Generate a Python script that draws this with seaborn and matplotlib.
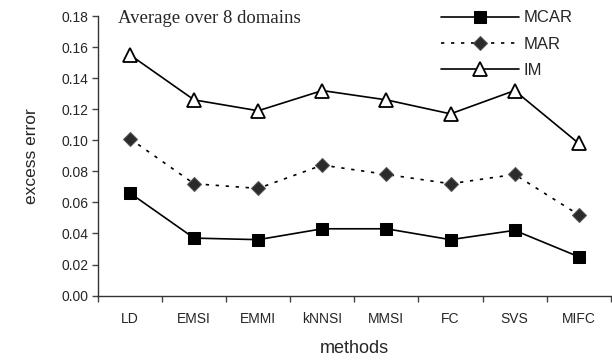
import matplotlib
matplotlib.use("Agg")
import matplotlib.pyplot as plt
import seaborn as sns
import pandas as pd
import numpy as np

methods = ["LD", "EMSI", "EMMI", "kNNSI", "MMSI", "FC", "SVS", "MIFC"]
mcar = [0.066, 0.037, 0.036, 0.043, 0.043, 0.036, 0.042, 0.025]
mar = [0.101, 0.072, 0.069, 0.084, 0.078, 0.072, 0.078, 0.052]
im = [0.155, 0.126, 0.119, 0.132, 0.126, 0.117, 0.132, 0.098]

sns.set_style("ticks")
plt.rcParams["font.family"] = ["Liberation Sans", "DejaVu Sans"]

fig = plt.figure(figsize=(6.12, 3.64), dpi=100)
ax = fig.add_axes([0.160, 0.188, 0.838, 0.768])

x = np.arange(len(methods))
df = pd.DataFrame({"x": x, "MCAR": mcar, "MAR": mar, "IM": im})

sns.lineplot(data=df, x="x", y="MCAR", ax=ax, color="black", lw=1.2,
             marker="s", markersize=9, markerfacecolor="black",
             markeredgecolor="black", label="MCAR")
sns.lineplot(data=df, x="x", y="MAR", ax=ax, color="black", lw=1.2,
             linestyle=(0, (2, 4)), marker="D", markersize=7,
             markerfacecolor="#2b2b2b", markeredgecolor="#555555",
             label="MAR")
sns.lineplot(data=df, x="x", y="IM", ax=ax, color="black", lw=1.2,
             marker="^", markersize=9.5, markerfacecolor="white",
             markeredgecolor="black", markeredgewidth=1.3, label="IM")

ax.set_xlim(-0.5, len(methods) - 0.5)
ax.set_ylim(0, 0.18)
ax.set_yticks(np.arange(0, 0.181, 0.02))
ax.set_yticklabels([f"{v:.2f}" for v in np.arange(0, 0.181, 0.02)])
ax.set_xticks(x)
ax.set_xticklabels(methods)
ax.set_xticks(np.arange(-0.5, len(methods)), minor=True)
ax.tick_params(axis="x", which="major", length=0, pad=12, labelsize=10)
ax.tick_params(axis="x", which="minor", length=4, width=1, color="#444444")
ax.tick_params(axis="y", length=4, width=1, color="#444444", labelsize=10, pad=3)

for s in ["left", "bottom"]:
    ax.spines[s].set_color("#333333")
    ax.spines[s].set_linewidth(1)
sns.despine(ax=ax)

ax.set_xlabel("methods", fontsize=13, labelpad=10)
ax.set_ylabel("excess error", fontsize=12.5, labelpad=16)

ax.text(0.04, 1.02, "Average over 8 domains", transform=ax.transAxes,
        ha="left", va="top", fontsize=13.5, family="Liberation Serif")

leg = ax.legend(loc="upper left", frameon=False, fontsize=12,
                handlelength=4.7, labelspacing=0.68, borderpad=0,
                borderaxespad=0, bbox_to_anchor=(0.669, 1.02),
                handletextpad=0.25)

fig.savefig("out.png", dpi=100)
